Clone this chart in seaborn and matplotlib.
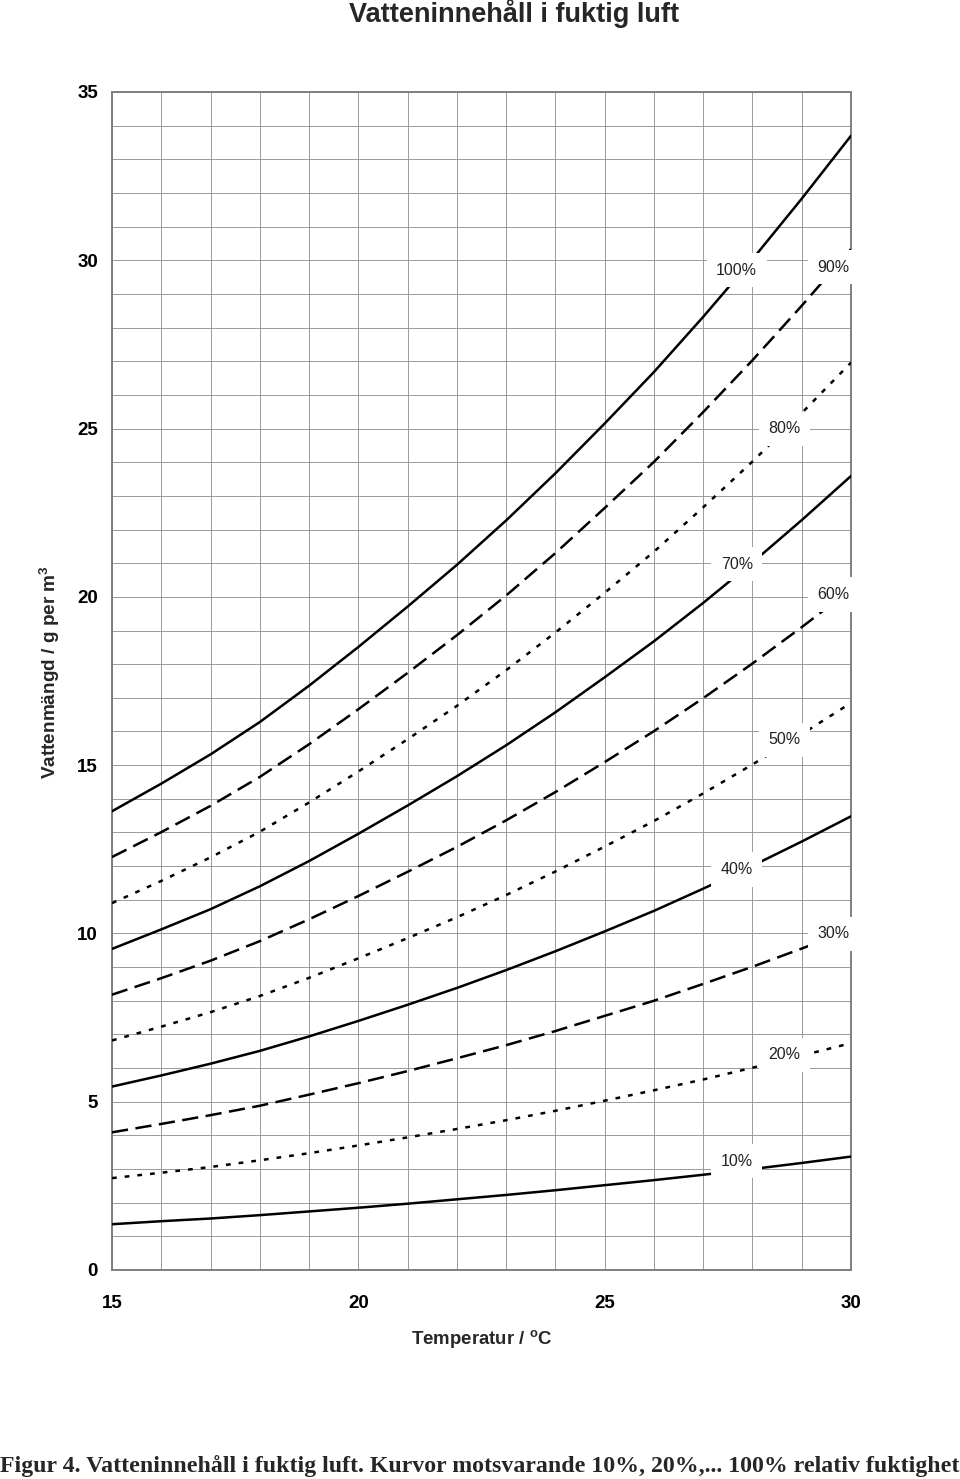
import matplotlib
matplotlib.use("Agg")
import matplotlib.pyplot as plt
import numpy as np
import pandas as pd
import seaborn as sns
from matplotlib.ticker import MultipleLocator

# ---------------- data ----------------
temperature = [15, 16, 17, 18, 19, 20, 21, 22, 23, 24, 25, 26, 27, 28, 29, 30]

rh_labels = ["100%", "90%", "80%", "70%", "60%", "50%", "40%", "30%", "20%", "10%"]

rh_100 = [13.63, 14.45, 15.32, 16.28, 17.36, 18.51, 19.71, 20.95, 22.27, 23.67, 25.15, 26.68, 28.32, 30.03, 31.83, 33.70]
rh_90 = [12.27, 13.01, 13.79, 14.65, 15.62, 16.66, 17.74, 18.86, 20.04, 21.30, 22.64, 24.01, 25.49, 27.03, 28.65, 30.33]
rh_80 = [10.90, 11.56, 12.26, 13.02, 13.89, 14.81, 15.77, 16.76, 17.82, 18.94, 20.12, 21.34, 22.66, 24.02, 25.46, 26.96]
rh_70 = [9.54, 10.12, 10.72, 11.40, 12.15, 12.96, 13.80, 14.67, 15.59, 16.57, 17.61, 18.68, 19.82, 21.02, 22.28, 23.59]
rh_60 = [8.18, 8.67, 9.19, 9.77, 10.42, 11.11, 11.83, 12.57, 13.36, 14.20, 15.09, 16.01, 16.99, 18.02, 19.10, 20.22]
rh_50 = [6.82, 7.23, 7.66, 8.14, 8.68, 9.26, 9.86, 10.48, 11.14, 11.84, 12.58, 13.34, 14.16, 15.02, 15.92, 16.85]
rh_40 = [5.45, 5.78, 6.13, 6.51, 6.94, 7.40, 7.88, 8.38, 8.91, 9.47, 10.06, 10.67, 11.33, 12.01, 12.73, 13.48]
rh_30 = [4.09, 4.34, 4.60, 4.88, 5.21, 5.55, 5.91, 6.29, 6.68, 7.10, 7.55, 8.00, 8.50, 9.01, 9.55, 10.11]
rh_20 = [2.73, 2.89, 3.06, 3.26, 3.47, 3.70, 3.94, 4.19, 4.45, 4.73, 5.03, 5.34, 5.66, 6.01, 6.37, 6.74]
rh_10 = [1.36, 1.45, 1.53, 1.63, 1.74, 1.85, 1.97, 2.10, 2.23, 2.37, 2.52, 2.67, 2.83, 3.00, 3.18, 3.37]

series = [rh_100, rh_90, rh_80, rh_70, rh_60, rh_50, rh_40, rh_30, rh_20, rh_10]

# label anchor positions (data coords)
label_x = [27.68, 29.64, 28.65, 27.68, 29.64, 28.65, 27.68, 29.64, 28.65, 27.68]
label_y = [29.70, 29.79, 24.99, 20.97, 20.07, 15.75, 11.90, 9.99, 6.40, 3.23]

x_ticks = [15, 20, 25, 30]
y_ticks = [0, 5, 10, 15, 20, 25, 30, 35]

# ---------------- style ----------------
sns.set_style("white")
plt.rcParams["font.family"] = ["Liberation Sans", "DejaVu Sans"]
plt.rcParams["mathtext.fontset"] = "custom"
plt.rcParams["mathtext.rm"] = "Liberation Sans"
plt.rcParams["mathtext.bf"] = "Liberation Sans:bold"

rows = []
for lab, vals in zip(rh_labels, series):
    for t, v in zip(temperature, vals):
        rows.append({"temp": t, "val": v, "rh": lab})
df = pd.DataFrame(rows)

solid = ""
dashed = (6.5, 3.0)
dotted = (1.9, 3.2)
style_cycle = [solid, dashed, dotted]
dash_map = {lab: style_cycle[i % 3] for i, lab in enumerate(rh_labels)}

fig = plt.figure(figsize=(9.6, 14.79), dpi=100)
ax = fig.add_axes([112 / 960, 1 - 1270 / 1479, (851 - 112) / 960, (1270 - 92) / 1479])

sns.lineplot(data=df, x="temp", y="val", style="rh", style_order=rh_labels,
             dashes=dash_map, color="black", linewidth=1.8, estimator=None,
             legend=False, ax=ax, zorder=3)

ax.set_xlim(15, 30)
ax.set_ylim(0, 35)
ax.set_xticks(x_ticks)
ax.set_yticks(y_ticks)
ax.xaxis.set_minor_locator(MultipleLocator(1))
ax.yaxis.set_minor_locator(MultipleLocator(1))
ax.grid(True, which="both", color="#9a9a9a", linewidth=0.7)
ax.set_axisbelow(True)

ax.tick_params(which="major", direction="out", length=4, width=1, color="#7f7f7f",
               labelsize=13.5, labelcolor="black")
ax.tick_params(which="minor", length=0)
ax.tick_params(axis="x", pad=14)
ax.tick_params(axis="y", pad=6)
for lbl in ax.get_xticklabels() + ax.get_yticklabels():
    lbl.set_fontweight("bold")

for sp in ax.spines.values():
    sp.set_visible(True)
    sp.set_color("#7f7f7f")
    sp.set_linewidth(1.4)

ax.set_xlabel(r"Temperatur / $^{\mathbf{o}}$C", fontsize=13.4, fontweight="bold", va="center")
ax.xaxis.set_label_coords(0.5, -(1340 - 1270) / 1178)
ax.set_ylabel(r"Vattenmängd / g per m$^{\mathbf{3}}$", fontsize=13.7, fontweight="bold",
              va="center", ha="center")
ax.yaxis.set_label_coords((50 - 112) / 739, (1270 - 672) / 1178)

for lab, lx, ly in zip(rh_labels, label_x, label_y):
    ax.text(lx, ly, lab, fontsize=11.5, color="#222222", ha="center", va="center",
            zorder=6, clip_on=False,
            bbox=dict(boxstyle="square,pad=0.6", facecolor="white", edgecolor="none"))

fig.text(514 / 960, 1 - 14 / 1479, "Vatteninnehåll i fuktig luft", fontsize=19.5,
         fontweight="bold", ha="center", va="center")

fig.text(0.5, 1 - 1466 / 1479,
         "Figur 4. Vatteninnehåll i fuktig luft. Kurvor motsvarande 10%, 20%,... 100% relativ fuktighet",
         fontsize=17.2, fontweight="bold", family=["Liberation Serif", "DejaVu Serif"],
         ha="center", va="center")

fig.savefig("out.png", dpi=100)
